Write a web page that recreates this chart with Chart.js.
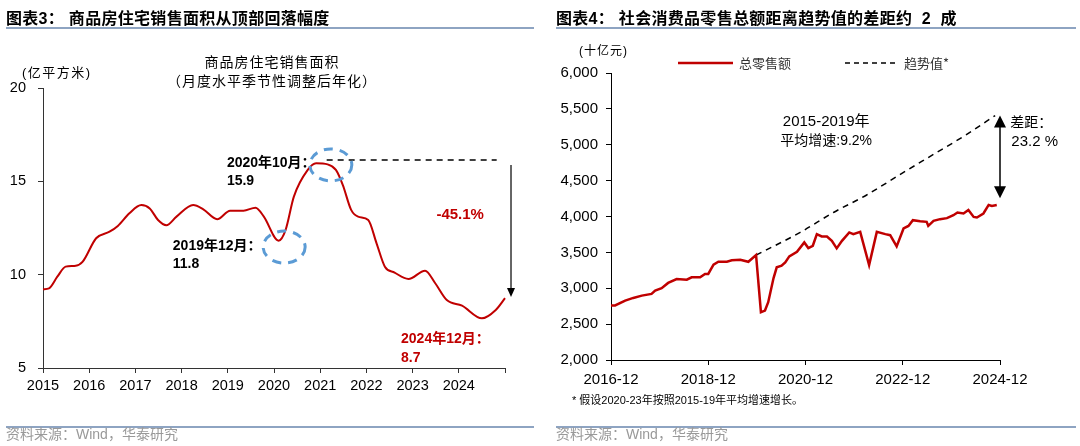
<!DOCTYPE html>
<html>
<head>
<meta charset="utf-8">
<script src="https://cdn.jsdelivr.net/npm/chart.js@4.4.1/dist/chart.umd.min.js"></script>
<style>
  body { margin: 0; background: #fff; font-family: "Liberation Sans", "Noto Sans CJK SC", sans-serif; }
  #page { position: relative; width: 1080px; height: 446px; overflow: hidden; }
  canvas { position: absolute; top: 0; }
  .txt { position: absolute; white-space: nowrap; color: #000; }
  .title { font: bold 16px "Liberation Sans", "Noto Sans CJK SC"; top: 5px; letter-spacing: 0.3px; }
  .rule { position: absolute; height: 2px; background: #8EA4C2; }
  .src { font: 14px "Liberation Sans", "Noto Sans CJK SC"; color: #999; top: 424px; }
  .cjk { font-family: "Noto Sans CJK SC", sans-serif; }
  .lat { font-family: "Liberation Sans", sans-serif; }
</style>
</head>
<body>
<div id="page">
  <canvas id="housingChart" width="540" height="446" style="left:0"></canvas>
  <canvas id="retailChart" width="540" height="446" style="left:540px"></canvas>

  <div class="txt title" style="left:6px">图表3：&nbsp;商品房住宅销售面积从顶部回落幅度</div>
  <div class="rule" style="left:6px; top:27px; width:528px"></div>
  <div class="txt title" style="left:556px">图表4：&nbsp;社会消费品零售总额距离趋势值的差距约&nbsp;&nbsp;2&nbsp;&nbsp;成</div>
  <div class="rule" style="left:556px; top:27px; width:520px"></div>

  <div class="txt cjk" style="left:272px; top:52px; font-size:14px; transform:translateX(-50%); text-align:center; line-height:19px; letter-spacing:1px">商品房住宅销售面积<br>（月度水平季节性调整后年化）</div>
  <div class="txt cjk" style="left:22px; top:62px; font-size:13px; letter-spacing:1.5px"><span class="lat">(</span>亿平方米<span class="lat">)</span></div>

  <div class="txt cjk" style="left:579px; top:41px; font-size:12px; letter-spacing:1px"><span class="lat">(</span>十亿元<span class="lat">)</span></div>
  <div class="txt" style="left:572px; top:391px; font-size:11px">* <span class="cjk">假设</span>2020-23<span class="cjk">年按照</span>2015-19<span class="cjk">年平均增速增长。</span></div>

  <div class="rule" style="left:6px; top:426px; width:528px; height:1.5px"></div>
  <div class="rule" style="left:556px; top:426px; width:520px; height:1.5px"></div>
  <div class="txt src" style="left:6px; top:423px">资料来源：Wind，华泰研究</div>
  <div class="txt src" style="left:556px; top:423px">资料来源：Wind，华泰研究</div>
</div>

<script>
// ---- left chart data: residential floor space sold, SA annualised (100 mn sqm)
const housingYears = [2015.0, 2015.13, 2015.31, 2015.49, 2015.71, 2015.86, 2016.15, 2016.44, 2016.62, 2016.87,
  2017.13, 2017.31, 2017.49, 2017.67, 2017.89, 2018.25, 2018.47, 2018.77, 2019.05, 2019.34,
  2019.6, 2019.78, 2020.1, 2020.25, 2020.43, 2020.73, 2020.91, 2021.16, 2021.34, 2021.49,
  2021.67, 2021.82, 2022.04, 2022.22, 2022.4, 2022.61, 2022.91, 2023.27, 2023.49, 2023.74,
  2024.07, 2024.5, 2024.8, 2025.0];
const housingArea = [9.22, 9.27, 9.89, 10.43, 10.48, 10.7, 11.95, 12.3, 12.61, 13.29,
  13.73, 13.55, 12.93, 12.65, 13.11, 13.73, 13.5, 12.97, 13.43, 13.43,
  13.59, 13.11, 11.82, 12.39, 14.18, 15.61, 15.97, 15.91, 15.61, 14.8,
  13.47, 13.11, 12.93, 11.68, 10.43, 10.11, 9.77, 10.21, 9.54, 8.64,
  8.34, 7.66, 8.11, 8.74];
const housingYTicks = [5, 10, 15, 20];
const housingXTicks = [2015, 2016, 2017, 2018, 2019, 2020, 2021, 2022, 2023, 2024];

// ---- right chart data: retail sales (bn yuan), months counted from 2016-12
const retailMonths = [0, 1, 3.5, 5.5, 7.6, 10, 10.9, 12.5, 14.1, 16.2, 18.7, 19.9, 22, 23.2, 24,
  25.3, 26.5, 28.6, 29.8, 31.9, 33.9, 35.8, 37, 38, 38.8, 40.1, 40.9, 42.1, 43, 44,
  45.9, 47.7, 48.7, 49.8, 50.8, 52, 53.3, 54.5, 55.7, 57, 58.8, 59.8, 61.5, 63.7, 65.6,
  67.7, 68.9, 70.5, 72.2, 73.4, 74.5, 76.3, 77.9, 78.3, 79.6, 81.2, 82.9, 84.5, 85.5, 87,
  88.2, 89.5, 90.3, 91.9, 93.2, 94, 95.2];
const retailSales = [2758, 2760, 2828, 2865, 2897, 2921, 2967, 3000, 3074, 3129, 3120, 3153, 3153, 3199, 3199,
  3328, 3369, 3369, 3389, 3397, 3369, 3462, 2667, 2689, 2805, 3139, 3292, 3314, 3361, 3444,
  3508, 3639, 3560, 3592, 3754, 3722, 3722, 3661, 3556, 3661, 3778, 3754, 3786, 3324, 3786,
  3754, 3740, 3583, 3833, 3869, 3949, 3935, 3925, 3869, 3939, 3963, 3977, 4018, 4056, 4042,
  4092, 3994, 3986, 4042, 4161, 4147, 4161];
const trendMonths = [35.8, 46.7, 54.9, 63.1, 71.4, 79.6, 87.8, 94.8];
const trendValues = [3462, 3778, 4056, 4300, 4588, 4866, 5144, 5407];
const retailYTicks = [2000, 2500, 3000, 3500, 4000, 4500, 5000, 5500, 6000];
const retailXTicks = [0, 24, 48, 72, 96];

document.addEventListener("DOMContentLoaded", function () {
    const colorRed = '#C00000';
    const colorBlue = '#5B9BD5';
    const cjk = '"Liberation Sans", "Noto Sans CJK SC", sans-serif';

    function pairs(xs, ys) {
        return xs.map((v, i) => ({ x: v, y: ys[i] }));
    }

    function text(ctx, str, x, y, font, color, align) {
        ctx.font = font;
        ctx.fillStyle = color;
        ctx.textAlign = align || 'left';
        ctx.textBaseline = 'middle';
        ctx.fillText(str, x, y);
    }

    // annotations on the housing chart, placed in data coordinates
    const housingNotes = {
        id: 'housingNotes',
        afterDatasetsDraw(chart) {
            const { ctx, scales: { x, y } } = chart;
            ctx.save();

            // dashed line at the peak
            ctx.strokeStyle = '#000';
            ctx.lineWidth = 1.5;
            ctx.setLineDash([6, 5]);
            ctx.beginPath();
            ctx.moveTo(x.getPixelForValue(2021.14), y.getPixelForValue(16.14));
            ctx.lineTo(x.getPixelForValue(2024.82), y.getPixelForValue(16.14));
            ctx.stroke();

            // drop arrow
            ctx.setLineDash([]);
            ctx.lineWidth = 1.2;
            const ax = x.getPixelForValue(2025.13);
            const aTop = y.getPixelForValue(15.88);
            const aBot = y.getPixelForValue(8.81);
            ctx.beginPath();
            ctx.moveTo(ax, aTop);
            ctx.lineTo(ax, aBot - 8);
            ctx.stroke();
            ctx.fillStyle = '#000';
            ctx.beginPath();
            ctx.moveTo(ax - 4, aBot - 9);
            ctx.lineTo(ax + 4, aBot - 9);
            ctx.lineTo(ax, aBot);
            ctx.closePath();
            ctx.fill();

            // dashed blue rings around trough and peak
            ctx.strokeStyle = colorBlue;
            ctx.lineWidth = 3;
            ctx.setLineDash([9, 7]);
            [[2020.22, 11.48], [2021.23, 15.88]].forEach(function (c) {
                ctx.beginPath();
                ctx.ellipse(x.getPixelForValue(c[0]), y.getPixelForValue(c[1]), 21, 16, 0, 0, Math.PI * 2);
                ctx.stroke();
            });
            ctx.setLineDash([]);

            const bold = 'bold 14px ' + cjk;
            text(ctx, '2020年10月：', x.getPixelForValue(2018.98), y.getPixelForValue(15.98), bold, '#000');
            text(ctx, '15.9', x.getPixelForValue(2018.98), y.getPixelForValue(15.02), bold, '#000');
            text(ctx, '2019年12月：', x.getPixelForValue(2017.81), y.getPixelForValue(11.54), bold, '#000');
            text(ctx, '11.8', x.getPixelForValue(2017.81), y.getPixelForValue(10.57), bold, '#000');
            text(ctx, '-45.1%', x.getPixelForValue(2024.03), y.getPixelForValue(13.2), 'bold 15px ' + cjk, colorRed, 'center');
            text(ctx, '2024年12月：', x.getPixelForValue(2022.75), y.getPixelForValue(6.56), bold, colorRed);
            text(ctx, '8.7', x.getPixelForValue(2022.75), y.getPixelForValue(5.54), bold, colorRed);
            ctx.restore();
        }
    };

    new Chart(document.getElementById('housingChart'), {
        type: 'line',
        data: {
            datasets: [{
                data: pairs(housingYears, housingArea),
                borderColor: colorRed,
                borderWidth: 2,
                pointRadius: 0,
                cubicInterpolationMode: 'monotone',
                clip: false
            }]
        },
        options: {
            responsive: false,
            animation: false,
            layout: { padding: { left: 0, top: 88, right: 35, bottom: 48 } },
            plugins: { legend: { display: false }, tooltip: { enabled: false } },
            scales: {
                x: {
                    type: 'linear',
                    min: 2015,
                    max: 2025,
                    afterFit: s => { s.height = 30; },
                    afterBuildTicks: s => { s.ticks = housingXTicks.concat([2025]).map(v => ({ value: v })); },
                    grid: { drawOnChartArea: false, tickLength: 5, color: '#333' },
                    border: { color: '#333', width: 1 },
                    ticks: {
                        color: '#000',
                        padding: 4,
                        maxRotation: 0,
                        font: { family: 'Liberation Sans', size: 14.5 },
                        callback: v => housingXTicks.includes(v) ? String(v) : ''
                    }
                },
                y: {
                    min: 5,
                    max: 20,
                    afterFit: s => { s.width = 43; },
                    afterBuildTicks: s => { s.ticks = housingYTicks.map(v => ({ value: v })); },
                    grid: { drawOnChartArea: false, tickLength: 5, color: '#333' },
                    border: { color: '#333', width: 1 },
                    ticks: { color: '#000', padding: 12, font: { family: 'Liberation Sans', size: 14.5 } }
                }
            }
        },
        plugins: [housingNotes]
    });

    // annotations and hand-drawn legend on the retail chart
    const retailNotes = {
        id: 'retailNotes',
        afterDatasetsDraw(chart) {
            const { ctx, scales: { x, y } } = chart;
            ctx.save();

            // legend
            ctx.lineWidth = 2.5;
            ctx.strokeStyle = colorRed;
            ctx.beginPath(); ctx.moveTo(138, 63); ctx.lineTo(193, 63); ctx.stroke();
            text(ctx, '总零售额', 199, 63, '13px "Noto Sans CJK SC"', '#333');
            ctx.lineWidth = 1.5;
            ctx.strokeStyle = '#000';
            ctx.setLineDash([5, 4]);
            ctx.beginPath(); ctx.moveTo(305, 63); ctx.lineTo(355, 63); ctx.stroke();
            ctx.setLineDash([]);
            text(ctx, '趋势值*', 364, 63, '13px "Noto Sans CJK SC"', '#333');

            // double arrow showing the gap
            const ax = x.getPixelForValue(96);
            const aTop = y.getPixelForValue(5407);
            const aBot = y.getPixelForValue(4254);
            ctx.lineWidth = 1.5;
            ctx.beginPath();
            ctx.moveTo(ax, aTop + 10);
            ctx.lineTo(ax, aBot - 10);
            ctx.stroke();
            ctx.fillStyle = '#000';
            ctx.beginPath();
            ctx.moveTo(ax, aTop); ctx.lineTo(ax - 6, aTop + 12); ctx.lineTo(ax + 6, aTop + 12);
            ctx.closePath(); ctx.fill();
            ctx.beginPath();
            ctx.moveTo(ax, aBot); ctx.lineTo(ax - 6, aBot - 12); ctx.lineTo(ax + 6, aBot - 12);
            ctx.closePath(); ctx.fill();

            text(ctx, '2015-2019年', x.getPixelForValue(53.1), y.getPixelForValue(5324), '15px ' + cjk, '#000', 'center');
            text(ctx, '平均增速:9.2%', x.getPixelForValue(53.1), y.getPixelForValue(5046), '14px ' + cjk, '#000', 'center');
            text(ctx, '差距：', x.getPixelForValue(98.5), y.getPixelForValue(5296), '14px ' + cjk, '#000');
            text(ctx, '23.2 %', x.getPixelForValue(98.8), y.getPixelForValue(5046), '15px ' + cjk, '#000');
            ctx.restore();
        }
    };

    new Chart(document.getElementById('retailChart'), {
        type: 'line',
        data: {
            datasets: [{
                label: '总零售额',
                data: pairs(retailMonths, retailSales),
                borderColor: colorRed,
                borderWidth: 2.5,
                pointRadius: 0,
                tension: 0,
                clip: false
            }, {
                label: '趋势值*',
                data: pairs(trendMonths, trendValues),
                borderColor: '#000',
                borderWidth: 1.5,
                borderDash: [6, 5],
                pointRadius: 0,
                cubicInterpolationMode: 'monotone',
                clip: false
            }]
        },
        options: {
            responsive: false,
            animation: false,
            layout: { padding: { left: 0, top: 73, right: 80, bottom: 54 } },
            plugins: { legend: { display: false }, tooltip: { enabled: false } },
            scales: {
                x: {
                    type: 'linear',
                    min: 0,
                    max: 96,
                    afterFit: s => { s.height = 32; },
                    afterBuildTicks: s => { s.ticks = retailXTicks.map(v => ({ value: v })); },
                    grid: { drawOnChartArea: false, tickLength: 5, color: '#000' },
                    border: { color: '#000', width: 1 },
                    ticks: {
                        color: '#000',
                        padding: 6,
                        maxRotation: 0,
                        font: { family: 'Liberation Sans', size: 15 },
                        callback: v => (2016 + v / 12) + '-12'
                    }
                },
                y: {
                    min: 2000,
                    max: 6000,
                    afterFit: s => { s.width = 71; },
                    afterBuildTicks: s => { s.ticks = retailYTicks.map(v => ({ value: v })); },
                    grid: { drawOnChartArea: false, tickLength: 5, color: '#000' },
                    border: { color: '#000', width: 1 },
                    ticks: {
                        color: '#000',
                        padding: 8,
                        font: { family: 'Liberation Sans', size: 15 },
                        callback: v => v.toLocaleString('en-US')
                    }
                }
            }
        },
        plugins: [retailNotes]
    });
});
</script>
</body>
</html>
